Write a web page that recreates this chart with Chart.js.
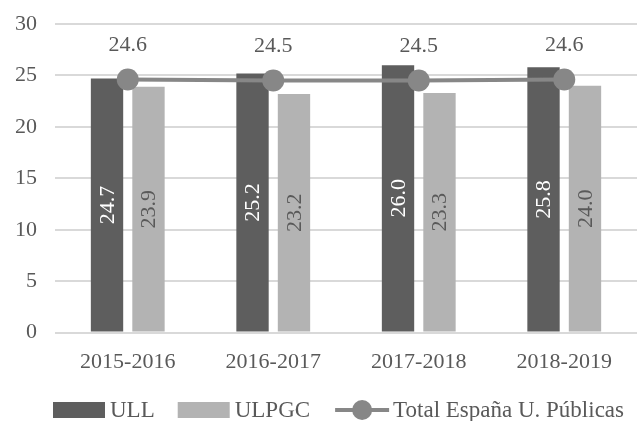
<!DOCTYPE html>
<html>
<head>
<meta charset="utf-8">
<script src="https://cdn.jsdelivr.net/npm/chart.js@4.4.1/dist/chart.umd.min.js"></script>
<style>
  html, body { margin: 0; padding: 0; background: #fff; overflow: hidden; }
  #chart { display: block; }
</style>
</head>
<body>
<canvas id="chart" width="638" height="421"></canvas>
<script>
// datos
const years = ["2015-2016", "2016-2017", "2017-2018", "2018-2019"];
const ull = [24.7, 25.2, 26.0, 25.8];
const ulpgc = [23.9, 23.2, 23.3, 24.0];
const totalEspana = [24.6, 24.5, 24.5, 24.6];
const yTicks = [0, 5, 10, 15, 20, 25, 30];

const DARK = "#5e5e5e";
const LIGHT = "#b3b3b3";
const LINE = "#878787";
const TEXT = "#595959";
const FONT = "'Liberation Serif', 'DejaVu Serif', serif";

// el área del gráfico original sigue ~10 px más allá del borde derecho
const overflowRight = {
  id: "overflowRight",
  afterLayout(chart) {
    const extra = 10;
    const s = chart.scales.x;
    s.right += extra;
    s.width += extra;
    s._length += extra;
    chart.chartArea.right += extra;
    chart.chartArea.width += extra;
  },
};

// etiquetas de valores
const valueLabels = {
  id: "valueLabels",
  afterDatasetsDraw(chart) {
    const ctx = chart.ctx;
    ctx.save();
    ctx.font = "22px " + FONT;
    ctx.textAlign = "center";
    ctx.textBaseline = "middle";
    chart.data.datasets.forEach((ds, i) => {
      const meta = chart.getDatasetMeta(i);
      meta.data.forEach((el, j) => {
        const v = ds.data[j].toFixed(1);
        if (ds.type === "line") {
          ctx.fillStyle = TEXT;
          ctx.fillText(v, el.x, el.y - 34);
        } else {
          const mid = (el.y + el.base) / 2;
          ctx.save();
          ctx.translate(el.x, mid);
          ctx.rotate(-Math.PI / 2);
          ctx.fillStyle = i === 0 ? "#ffffff" : TEXT;
          ctx.fillText(v, 0, 1);
          ctx.restore();
        }
      });
    });
    ctx.restore();
  },
};

// leyenda dibujada a mano abajo
const bottomLegend = {
  id: "bottomLegend",
  afterDraw(chart) {
    const ctx = chart.ctx;
    const y = 410;
    const gaps = [23, 25, 0];
    ctx.save();
    ctx.font = "23px " + FONT;
    ctx.textBaseline = "middle";
    ctx.textAlign = "left";
    let x = 53;
    chart.data.datasets.forEach((ds, i) => {
      if (ds.type === "line") {
        ctx.strokeStyle = LINE;
        ctx.lineWidth = 4;
        ctx.beginPath();
        ctx.moveTo(x, y);
        ctx.lineTo(x + 54, y);
        ctx.stroke();
        ctx.fillStyle = LINE;
        ctx.beginPath();
        ctx.arc(x + 27, y, 10, 0, Math.PI * 2);
        ctx.fill();
        x += 58;
      } else {
        ctx.fillStyle = ds.backgroundColor;
        ctx.fillRect(x, y - 8, 52, 16);
        x += 57;
      }
      ctx.fillStyle = TEXT;
      ctx.fillText(ds.label, x, y + 1);
      x += ctx.measureText(ds.label).width + gaps[i];
    });
    ctx.restore();
  },
};

new Chart(document.getElementById("chart"), {
  data: {
    labels: years,
    datasets: [
      {
        type: "bar",
        label: "ULL",
        data: ull,
        backgroundColor: DARK,
        barPercentage: 0.78,
        categoryPercentage: 0.57,
        order: 2,
      },
      {
        type: "bar",
        label: "ULPGC",
        data: ulpgc,
        backgroundColor: LIGHT,
        barPercentage: 0.78,
        categoryPercentage: 0.57,
        order: 2,
      },
      {
        type: "line",
        label: "Total España U. Públicas",
        data: totalEspana,
        borderColor: LINE,
        backgroundColor: LINE,
        borderWidth: 4,
        pointRadius: 11,
        pointHoverRadius: 11,
        pointBackgroundColor: LINE,
        pointBorderWidth: 0,
        order: 1,
      },
    ],
  },
  options: {
    responsive: false,
    animation: false,
    layout: { padding: { top: 24, right: 0, bottom: 30, left: 0 } },
    scales: {
      x: {
        grid: { display: false, drawTicks: false },
        border: { display: false },
        ticks: { color: TEXT, font: { family: FONT, size: 22 }, padding: 16 },
      },
      y: {
        min: 0,
        max: 30,
        afterBuildTicks: (s) => {
          s.ticks = yTicks.map((v) => ({ value: v }));
        },
        afterFit: (s) => {
          s.width = 55;
          s.paddingTop = 0;
        },
        grid: { color: "#d9d9d9", lineWidth: 2, drawTicks: false },
        border: { display: false },
        ticks: {
          color: TEXT,
          font: { family: FONT, size: 22, lineHeight: 1 },
          padding: 18,
        },
      },
    },
    plugins: {
      tooltip: { enabled: false },
      legend: { display: false },
    },
  },
  plugins: [overflowRight, valueLabels, bottomLegend],
});
</script>
</body>
</html>
